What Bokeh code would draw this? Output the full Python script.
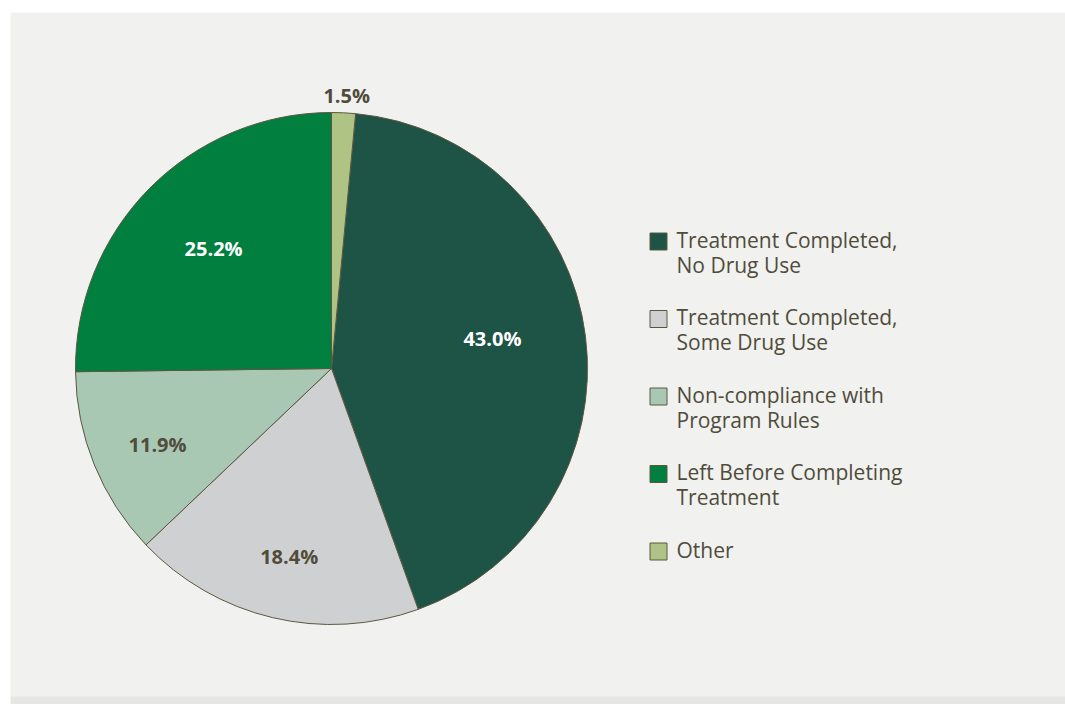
from bokeh.plotting import figure
from bokeh.models import Range1d, ColumnDataSource, BoxAnnotation
from bokeh.core.properties import value
from bokeh.embed import file_html
from bokeh.resources import INLINE
import math

# ---- data ----
categories = ["Treatment Completed,\nNo Drug Use",
              "Treatment Completed,\nSome Drug Use",
              "Non-compliance with\nProgram Rules",
              "Left Before Completing\nTreatment",
              "Other"]
percent = [43.0, 18.4, 11.9, 25.2, 1.5]
colors = ["#1d5445", "#cfd0d2", "#a9c8b4", "#007f3f", "#afc385"]
label_colors = ["#ffffff", "#4f4c3b", "#4f4c3b", "#ffffff", "#4f4c3b"]
# label placement (layout): fraction of radius and angular nudge in degrees
label_radius = [0.638, 0.757, 0.744, 0.653, 1.062]
label_nudge = [2.7, 0.7, 1.9, -0.5, -0.5]

FONT = "Open Sans"
TEXT = "#4f4c3b"
EDGE = "#5c5641"

W, H = 1065, 704
LEFT, TOP = 10, 12
FW, FH = W - LEFT, H - TOP
p = figure(width=W, height=H, output_backend="svg", toolbar_location=None,
           x_range=Range1d(0, FW), y_range=Range1d(0, FH),
           min_border_left=LEFT, min_border_top=TOP, min_border_right=0, min_border_bottom=0,
           background_fill_color="#f1f1ef", border_fill_color="#ffffff")
p.axis.visible = False
p.grid.visible = False
p.outline_line_color = None

def px(x):
    return x - LEFT

def py(y):
    return H - y

# bottom strip
p.add_layout(BoxAnnotation(bottom=0, top=py(696), left=0, right=FW,
                           fill_color="#e6e7e5", fill_alpha=1, line_color=None,
                           level="underlay"))

cx, cy, R = px(331), py(368), 256

total = sum(percent)
offset = percent[-1]  # "Other" sits at the top, first clockwise
starts, ends, lx, ly = [], [], [], []
cum = offset
for i, v in enumerate(percent):
    c = cum if i < len(percent) - 1 else 0.0
    s = math.pi / 2 - 2 * math.pi * c / total
    e = s - 2 * math.pi * v / total
    starts.append(s)
    ends.append(e)
    mid = (s + e) / 2 + math.radians(label_nudge[i])
    lx.append(cx + R * label_radius[i] * math.cos(mid))
    ly.append(cy + R * label_radius[i] * math.sin(mid) + 1.5)
    if i < len(percent) - 1:
        cum += v

src = ColumnDataSource(dict(start=starts, end=ends, color=colors,
                            lx=lx, ly=ly, lab=[f"{v:.1f}%" for v in percent],
                            lc=label_colors))
p.wedge(x=cx, y=cy, radius=R, start_angle="start", end_angle="end",
        direction="clock", fill_color="color", line_color=EDGE, line_width=1,
        source=src)
p.text(x="lx", y="ly", text="lab", text_color="lc", source=src,
       text_font=value(FONT), text_font_style="bold", text_font_size="20px",
       text_align="center", text_baseline="middle")

# ---- legend ----
n = len(categories)
step = 77.5
p.rect(x=[px(658)] * n, y=[py(241 + step * i) for i in range(n)],
       width=17, height=17, fill_color=colors, line_color=EDGE, line_width=1)
line1 = [c.split("\n")[0] for c in categories]
line2 = [c.split("\n")[1] if "\n" in c else "" for c in categories]
p.text(x=[px(676)] * n, y=[py(239 + step * i) for i in range(n)], text=line1,
       text_color=TEXT, text_font=value(FONT), text_font_size="21px",
       text_align="left", text_baseline="alphabetic")
p.text(x=[px(676)] * n, y=[py(264 + step * i) for i in range(n)], text=line2,
       text_color=TEXT, text_font=value(FONT), text_font_size="21px",
       text_align="left", text_baseline="alphabetic")

open("out.html", "w").write(file_html(p, INLINE))
